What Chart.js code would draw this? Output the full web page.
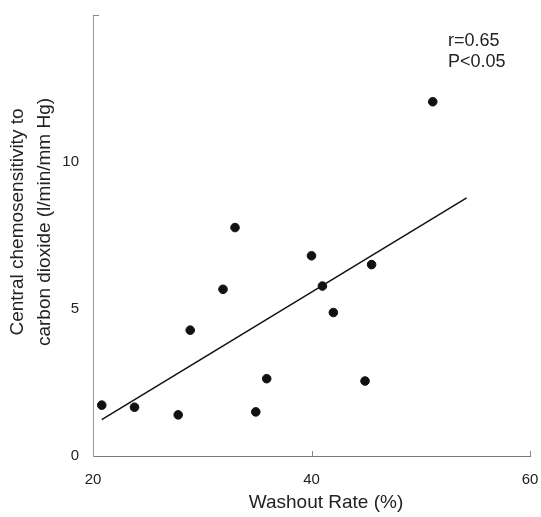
<!DOCTYPE html>
<html>
<head>
<meta charset="utf-8">
<script src="https://cdn.jsdelivr.net/npm/chart.js@4"></script>
<style>
  html, body { margin: 0; padding: 0; background: #fff; }
  #wrap { width: 541px; height: 517px; }
</style>
</head>
<body>
<div id="wrap"><canvas id="grafik"></canvas></div>
<script>
  // data
  var washout = [20.8, 23.8, 27.8, 28.9, 31.9, 33.0, 34.9, 35.9, 40.0, 41.0, 42.0, 44.9, 45.5, 51.1];
  var sensitivity = [1.73, 1.66, 1.40, 4.28, 5.67, 7.77, 1.50, 2.63, 6.81, 5.78, 4.88, 2.55, 6.51, 12.05];
  var fitX = [20.8, 54.2];
  var fitY = [1.24, 8.78];
  var xTicks = [20, 40, 60];
  var yTicks = [0, 5, 10];
  var statText = ["r=0.65", "P<0.05"];
  var xTitle = "Washout Rate (%)";
  var yTitle = ["Central chemosensitivity to", "carbon dioxide (l/min/mm Hg)"];

  var titik = washout.map(function(x, i) { return { x: x, y: sensitivity[i] }; });
  var garis = fitX.map(function(x, i) { return { x: x, y: fitY[i] }; });

  var FONT = "'Liberation Sans', Arial, sans-serif";
  var INK = "#222";

  var teksPlugin = {
    id: "teks",
    afterDraw: function(chart) {
      var ctx = chart.ctx;
      var sx = chart.scales.x, sy = chart.scales.y;
      ctx.save();

      // small inward ticks
      ctx.strokeStyle = "#888";
      ctx.lineWidth = 1;
      ctx.beginPath();
      [40, 60].forEach(function(v) {
        var px = Math.round(sx.getPixelForValue(v)) + 0.5;
        ctx.moveTo(px, sy.bottom);
        ctx.lineTo(px, sy.bottom - 5);
      });
      var top = Math.round(sy.getPixelForValue(15)) + 0.5;
      ctx.moveTo(sx.left, top);
      ctx.lineTo(sx.left + 6, top);
      ctx.stroke();

      ctx.fillStyle = INK;
      ctx.textBaseline = "middle";

      // stats
      ctx.font = "18px " + FONT;
      ctx.textAlign = "left";
      ctx.fillText(statText[0], 448, 41);
      ctx.fillText(statText[1], 448, 62);

      // axis titles
      ctx.font = "19px " + FONT;
      ctx.textAlign = "center";
      ctx.fillText(xTitle, 326, 503);

      ctx.translate(0, 222);
      ctx.rotate(-Math.PI / 2);
      ctx.fillText(yTitle[0], 0, 18);
      ctx.fillText(yTitle[1], 0, 45);
      ctx.restore();
    }
  };

  var ctx = document.getElementById("grafik").getContext("2d");

  new Chart(ctx, {
    type: "scatter",
    data: {
      datasets: [{
        label: "Subjects",
        data: titik,
        backgroundColor: "#111",
        borderColor: "#111",
        pointRadius: 4.3,
        pointHoverRadius: 4.3
      }, {
        type: "line",
        label: "Regression",
        data: garis,
        borderColor: "#111",
        borderWidth: 1.5,
        pointRadius: 0,
        fill: false
      }]
    },
    options: {
      responsive: true,
      maintainAspectRatio: false,
      animation: false,
      layout: { padding: { left: 0, right: 11, top: 15, bottom: 0 } },
      plugins: {
        legend: { display: false },
        tooltip: { enabled: false }
      },
      scales: {
        x: {
          type: "linear",
          min: 20,
          max: 60,
          afterFit: function(s) {
            s.height = 61;
            s.paddingLeft = 0;
            s.paddingRight = 0;
          },
          afterBuildTicks: function(s) {
            s.ticks = xTicks.map(function(v) { return { value: v }; });
          },
          grid: { display: false, drawTicks: false },
          border: { display: true, color: "#7a7a7a", width: 1 },
          ticks: {
            padding: 15,
            color: INK,
            font: { family: FONT, size: 15 },
            maxRotation: 0
          }
        },
        y: {
          type: "linear",
          min: 0,
          max: 15,
          afterFit: function(s) {
            s.width = 93;
            s.paddingTop = 0;
            s.paddingBottom = 0;
          },
          afterBuildTicks: function(s) {
            s.ticks = yTicks.map(function(v) { return { value: v }; });
          },
          grid: { display: false, drawTicks: false },
          border: { display: true, color: "#9a9a9a", width: 1 },
          ticks: {
            padding: 14,
            color: INK,
            font: { family: FONT, size: 15 }
          }
        }
      }
    },
    plugins: [teksPlugin]
  });
</script>
</body>
</html>
